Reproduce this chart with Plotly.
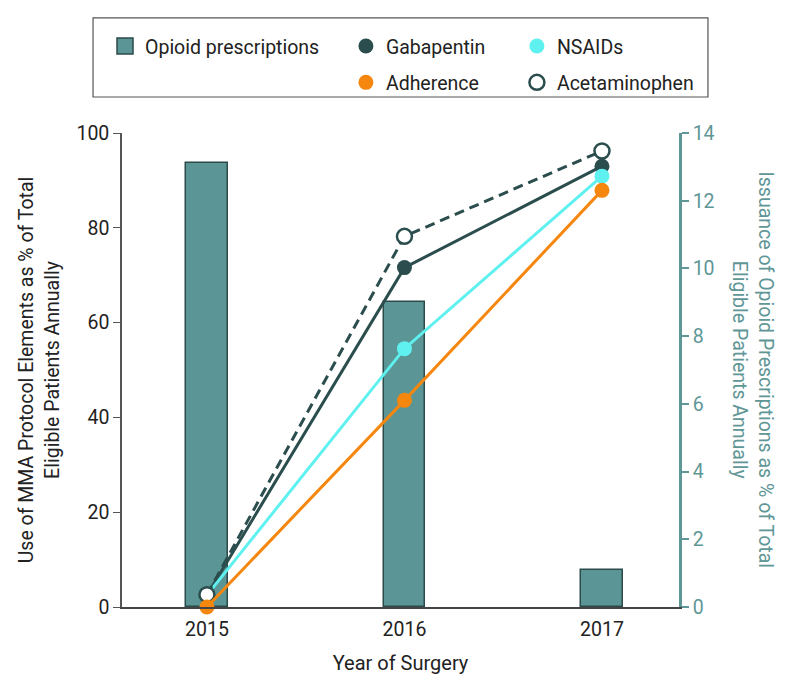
import plotly.graph_objects as go

years = [2015, 2016, 2017]
opioid_rx = [13.1, 9.0, 1.1]          # right axis, %
gabapentin = [2.5, 71.6, 93.0]        # left axis, %
nsaids = [2.5, 54.5, 90.9]
acetaminophen = [2.6, 78.2, 96.2]
adherence = [0.0, 43.6, 87.9]

TEAL = "#5b9595"
TEAL_DARK = "#2c4a4a"
TEAL_AXIS = "#5f9696"
DARK = "#2b4d4d"
CYAN = "#5ff0f0"
ORANGE = "#f5870f"
FONT = "Roboto"

fig = go.Figure()

# bars on primary (right-side) axis so lines draw above them
fig.add_trace(go.Bar(x=years, y=opioid_rx, width=0.21, marker=dict(color=TEAL, line=dict(color=TEAL_DARK, width=1.5)),
                     showlegend=False, yaxis="y"))

def line_trace(y, color, dash="solid", fill=None):
    return go.Scatter(x=years, y=y, mode="lines+markers", yaxis="y2", cliponaxis=False,
                      line=dict(color=color, width=3, dash=dash),
                      marker=dict(size=15, color=fill if fill else color,
                                  line=dict(color=color, width=2.5 if fill else 0)),
                      showlegend=False)

fig.add_trace(line_trace(gabapentin, DARK))
fig.add_trace(line_trace(nsaids, CYAN))
fig.add_trace(line_trace(acetaminophen, DARK, dash="10px,6px", fill="white"))
fig.add_trace(line_trace(adherence, ORANGE))

# legend-only entries
def leg(name, legend, group, symbol="circle", color=DARK, fill=None, size=15, lw=0):
    return go.Scatter(x=[None], y=[None], mode="markers", name=name, legend=legend, legendgroup=group,
                      marker=dict(symbol=symbol, size=size, color=fill if fill else color,
                                  line=dict(color=color, width=lw)), yaxis="y2")

fig.add_trace(leg("Opioid prescriptions", "legend", "a", symbol="square", color=TEAL_DARK, fill=TEAL, size=16, lw=1.5))
fig.add_trace(leg("Gabapentin", "legend2", "g1", color=DARK))
fig.add_trace(leg("Adherence", "legend2", "g2", color=ORANGE))
fig.add_trace(leg("NSAIDs", "legend3", "g3", color=CYAN))
fig.add_trace(leg("Acetaminophen", "legend3", "g4", color=DARK, fill="white", lw=2.5))

legend_common = dict(font=dict(family=FONT, size=19.5, color="#222"), bgcolor="rgba(0,0,0,0)",
                     yanchor="top", xanchor="left", tracegroupgap=8, traceorder="grouped")

LEG_Y = 1.224

fig.update_layout(
    width=786, height=684,
    margin=dict(l=114, r=115, t=125, b=85, autoexpand=False),
    paper_bgcolor="white", plot_bgcolor="white",
    font=dict(family=FONT, size=19.5, color="#222"),
    bargap=0,
    xaxis=dict(range=[2014.57, 2017.39], tickvals=years, ticks="outside", ticklen=4, tickcolor="rgba(0,0,0,0)",
               showline=True, linecolor="#444", linewidth=1.5,
               showgrid=False, zeroline=False, tickfont=dict(size=19.5, color="#222"),
               title=dict(text="Year of Surgery", font=dict(size=20), standoff=16)),
    yaxis=dict(side="right", range=[0, 14], dtick=2, showline=True, linecolor=TEAL_AXIS, linewidth=2.5,
               ticks="outside", ticklen=7, tickcolor=TEAL_AXIS, tickwidth=2, showgrid=False, zeroline=False,
               tickfont=dict(size=19.5, color=TEAL_AXIS)),
    yaxis2=dict(side="left", overlaying="y", range=[0, 100], dtick=20, showline=True, linecolor="#555",
                linewidth=1.5, ticks="outside", ticklen=7, tickcolor="#555", showgrid=False, zeroline=False,
                tickfont=dict(size=19.5, color="#222"),
                title=dict(text="Use of MMA Protocol Elements as % of Total<br>Eligible Patients Annually",
                           font=dict(size=19.5), standoff=12)),
    legend=dict(x=-0.0305, y=LEG_Y, **legend_common),
    legend2=dict(x=0.402, y=LEG_Y, **legend_common),
    legend3=dict(x=0.709, y=LEG_Y, **legend_common),
    shapes=[dict(type="rect", xref="paper", yref="paper", x0=-0.052, x1=1.052, y0=1.076, y1=1.243,
                 line=dict(color="#555", width=1.2), fillcolor="rgba(0,0,0,0)")],
    annotations=[dict(text="Issuance of Opioid Prescriptions as % of Total<br>Eligible Patients Annually",
                      xref="paper", yref="paper", x=1.132, y=0.5, textangle=90, showarrow=False,
                      font=dict(size=19.5, color=TEAL_AXIS), xanchor="center", yanchor="middle")],
)

fig.write_html("out.html")
